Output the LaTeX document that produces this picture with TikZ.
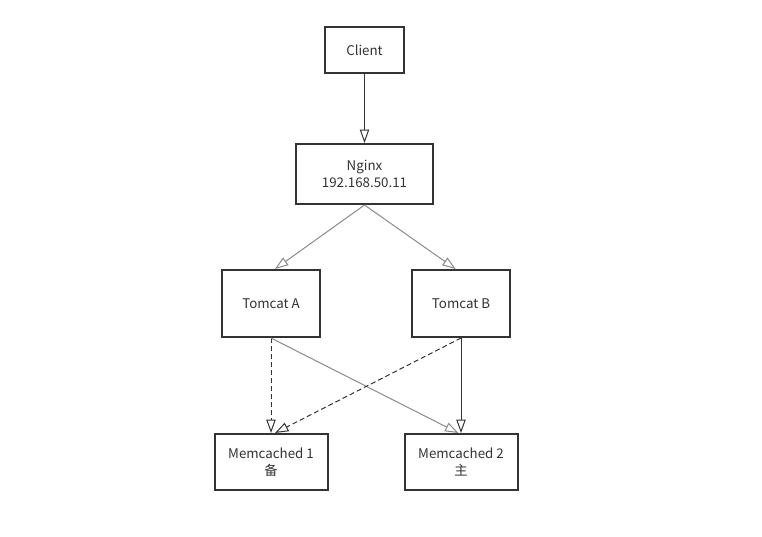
\documentclass[tikz,border=0pt]{standalone}
\usepackage{fontspec}
\setmainfont{Noto Sans CJK SC}
\usepackage{tikz}
\usetikzlibrary{arrows.meta, positioning}

\definecolor{boxline}{HTML}{333333}
\definecolor{linkgrey}{HTML}{8A8A8A}

\begin{document}
\begin{tikzpicture}[
  x=0.75pt, y=-0.75pt,
  font=\fontsize{10pt}{12.5pt}\selectfont,
  box/.style={rectangle, draw=boxline, line width=1.5pt, fill=white, text=boxline, align=center, inner sep=0pt},
  small/.style={box, minimum width=59.25pt, minimum height=34.5pt},
  wide/.style={box, minimum width=102.75pt, minimum height=45pt},
  tomcat/.style={box, minimum width=73.5pt, minimum height=50.25pt},
  cache/.style={box, minimum width=84.75pt, minimum height=42pt},
  arrow/.style={-{Triangle[open, length=10pt, width=7pt]}, line width=0.75pt, draw=boxline},
  greyarrow/.style={arrow, draw=linkgrey},
  backup/.style={arrow, dash pattern=on 3.75pt off 2.25pt}
]
\useasboundingbox (0,0) rectangle (762,536);

\node[small] (client) at (364.5,50) {Client};
\node[wide, below=51.75pt of client] (nginx) {Nginx\\192.168.50.11};

\node[tomcat, below left=48pt and -19.5pt of nginx] (tomA) {Tomcat A};
\node[tomcat, below right=48pt and -17.25pt of nginx] (tomB) {Tomcat B};

\node[cache, below=71.25pt of tomA] (mem1) {Memcached 1\\备};
\node[cache, below=71.25pt of tomB] (mem2) {Memcached 2\\主};

\draw[arrow] (client) -- (nginx);
\draw[greyarrow] (nginx.south) -- ([xshift=3pt]tomA.north);
\draw[greyarrow] (nginx.south) -- ([xshift=-4pt]tomB.north);

% Tomcat -> Memcached
\draw[backup] (tomA.south) -- (mem1.north);
\draw[greyarrow] (tomA.south) -- ([xshift=-2pt]mem2.north);
\draw[backup] (tomB.south) -- ([xshift=3pt]mem1.north);
\draw[arrow] (tomB.south) -- (mem2.north);

\end{tikzpicture}
\end{document}
